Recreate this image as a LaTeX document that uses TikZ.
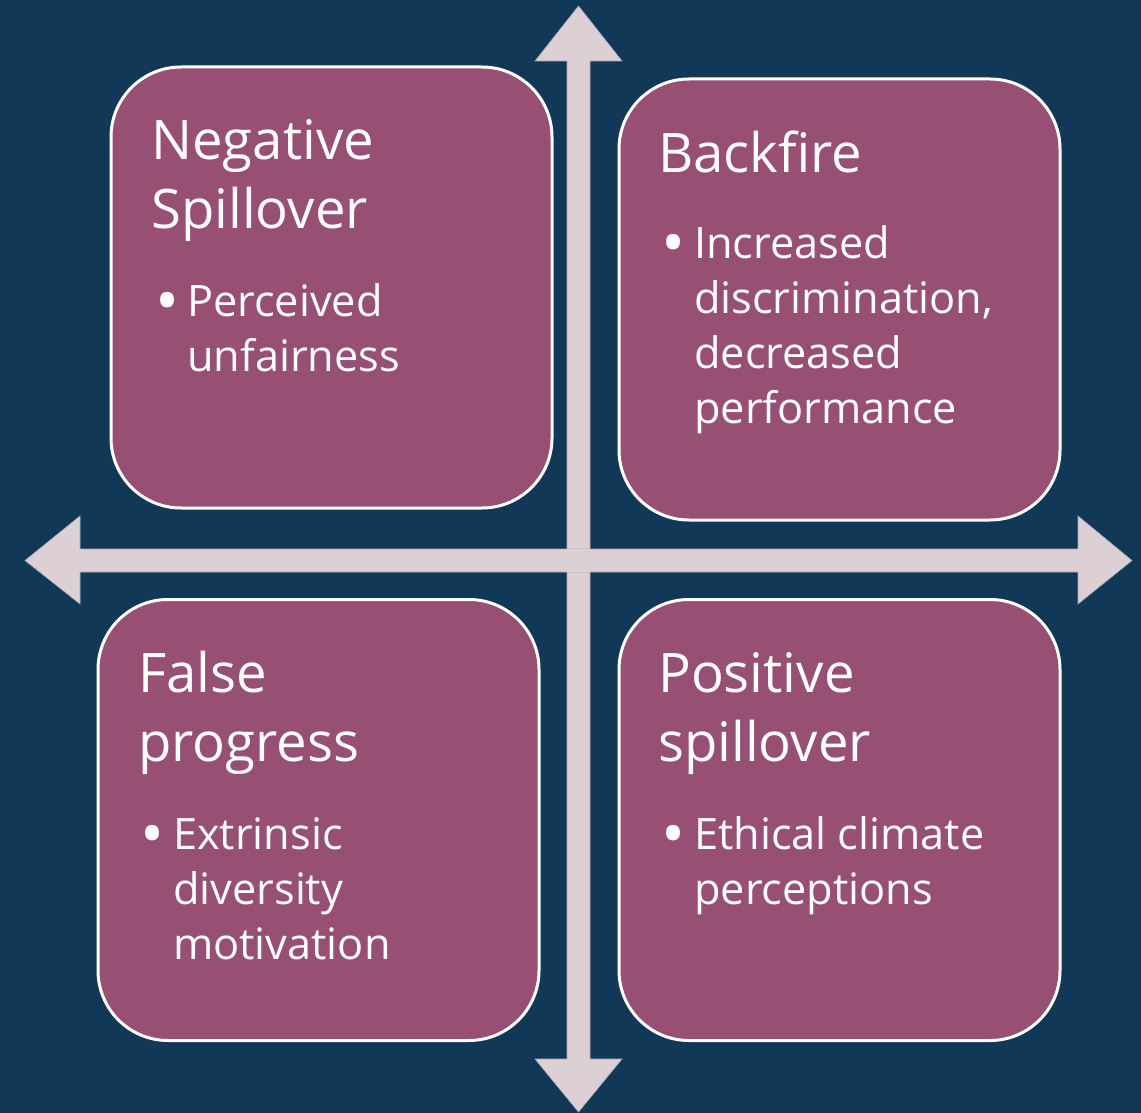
\documentclass[tikz,border=0pt]{standalone}
\usepackage{fontspec}
\setmainfont{Open Sans}
\definecolor{bgc}{HTML}{113857}
\definecolor{boxc}{HTML}{974F73}
\definecolor{arrc}{HTML}{DCD0D5}
\begin{document}
\begin{tikzpicture}[x=1pt,y=-1pt,
  quad/.style={draw=white,line width=3pt,fill=boxc,rounded corners=70pt,
    minimum width=441pt,minimum height=441pt,inner sep=0pt},
  ttl/.style={anchor=base west,inner sep=0pt,text=white,font=\fontsize{54.5}{69}\selectfont},
  itm/.style={anchor=base west,inner sep=0pt,text=white,font=\fontsize{43.3}{55}\selectfont},
  dot/.style={anchor=base west,inner sep=0pt,text=white,font=\fontsize{64}{64}\selectfont},
  arr/.style={fill=arrc,draw=arrc!75!bgc,line width=0.6pt}]
\fill[bgc] (0,0) rectangle (1141,1113);
\useasboundingbox (0,0) rectangle (1141,1113);
% boxes
\node[quad] (tl) at (331.5,287.5) {};
\node[quad] (tr) at (839.5,299.5) {};
\node[quad] (bl) at (318.5,820) {};
\node[quad] (br) at (839.5,820) {};
% arrows
\coordinate (vt) at (578.5,6);
\coordinate (vb) at (578.5,1112);
\coordinate (hl) at (25,560.5);
\coordinate (hr) at (1132,560.5);
\draw[arr] (vt) -- (622,61) -- (590,61) -- (590,1059) -- (622,1059) -- (vb)
  -- (535,1059) -- (567,1059) -- (567,61) -- (535,61) -- cycle;
\draw[arr] (hl) -- (80,516) -- (80,549) -- (1078,549) -- (1078,516) -- (hr)
  -- (1078,604) -- (1078,572) -- (80,572) -- (80,604) -- cycle;
\fill[arrc] (567.3,549.3) rectangle (589.7,571.7);
% top left
\node[ttl] (tlt1) at (151,160) {Negative};
\node[ttl] (tlt2) at (151,229) {Spillover};
\node[dot] (tlb) at (155,323) {•};
\node[itm] (tli1) at (187,316) {Perceived};
\node[itm] (tli2) at (187,371) {unfairness};
% top right
\node[ttl] (trt1) at (658,172) {Backfire};
\node[dot] (trb) at (661,265) {•};
\node[itm] (tri1) at (694,258) {Increased};
\node[itm] (tri2) at (694,313) {discrimination,};
\node[itm] (tri3) at (694,368) {decreased};
\node[itm] (tri4) at (694,423) {performance};
% bottom left
\node[ttl] (blt1) at (138,692) {False};
\node[ttl] (blt2) at (138,761) {progress};
\node[dot] (blb) at (140,856) {•};
\node[itm] (bli1) at (173,849) {Extrinsic};
\node[itm] (bli2) at (173,904) {diversity};
\node[itm] (bli3) at (173,959) {motivation};
% bottom right
\node[ttl] (brt1) at (658,692) {Positive};
\node[ttl] (brt2) at (658,761) {spillover};
\node[dot] (brb) at (661,856) {•};
\node[itm] (bri1) at (694,849) {Ethical climate};
\node[itm] (bri2) at (694,904) {perceptions};
\end{tikzpicture}
\end{document}
